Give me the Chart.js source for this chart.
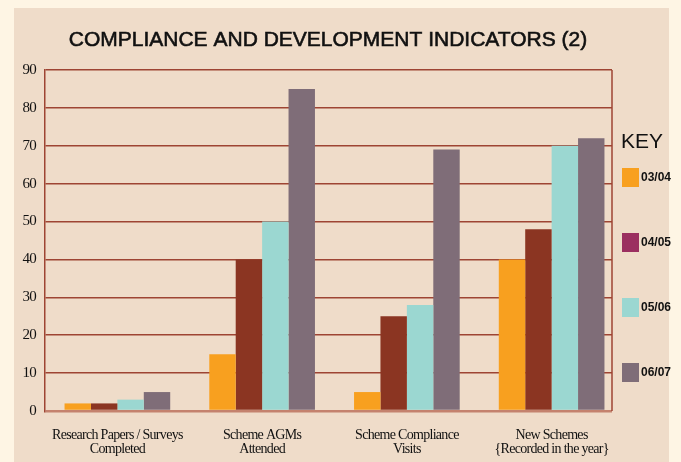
<!DOCTYPE html>
<html>
<head>
<meta charset="utf-8">
<script src="https://cdn.jsdelivr.net/npm/chart.js@4"></script>
<style>
  html, body { margin: 0; padding: 0; background: #fef5e4; }
  #wrap { width: 681px; height: 462px; }
</style>
</head>
<body>
<div id="wrap"><canvas id="chart" width="681" height="462"></canvas></div>
<script>
const categories = [
  ["Research Papers / Surveys", "Completed"],
  ["Scheme AGMs", "Attended"],
  ["Scheme Compliance", "Visits"],
  ["New Schemes", "{Recorded in the year}"]
];
const years = ["03/04", "04/05", "05/06", "06/07"];
const values0304 = [2, 15, 5, 40];
const values0405 = [2, 40, 25, 48];
const values0506 = [3, 50, 28, 70];
const values0607 = [5, 85, 69, 72];
const yTicks = [0, 10, 20, 30, 40, 50, 60, 70, 80, 90];

const barColors = ["#f8a01f", "#8b3522", "#9bd7d1", "#7f6d78"];
const keyColors = ["#f8a01f", "#9b2f60", "#9bd7d1", "#7f6d78"];
const gridColor = "#9e4433";
const baseColor = "#c4826e";

// panel, title, right border and the "KEY" box
const decor = {
  id: "decor",
  afterLayout(chart) {
    // the bar groups run a little past the framed area on the right
    const x = chart.scales.x;
    x.right += 12;
    x.width += 12;
    x.configure();
  },
  beforeDraw(chart) {
    const ctx = chart.ctx;
    ctx.save();
    ctx.fillStyle = "#efdcc9";
    ctx.fillRect(14, 8, 655, 454);
    ctx.restore();
    ctx.letterSpacing = "-0.7px";
  },
  afterDraw(chart) {
    const ctx = chart.ctx;
    const a = chart.chartArea;
    ctx.save();
    ctx.letterSpacing = "0px";
    ctx.strokeStyle = gridColor;
    ctx.lineWidth = 1.5;
    ctx.beginPath();
    ctx.moveTo(a.right, a.top);
    ctx.lineTo(a.right, a.bottom);
    ctx.stroke();

    ctx.fillStyle = "#111";
    ctx.strokeStyle = "#111";
    ctx.lineWidth = 0.6;
    ctx.textBaseline = "middle";
    ctx.textAlign = "center";
    ctx.font = "21px 'Liberation Sans', Arial, sans-serif";
    const title = "COMPLIANCE AND DEVELOPMENT INDICATORS (2)";
    ctx.fillText(title, 328, 40, 522);
    ctx.strokeText(title, 328, 40, 522);

    ctx.textAlign = "left";
    ctx.fillText("KEY", 621, 142);
    ctx.font = "bold 12px 'Liberation Sans', Arial, sans-serif";
    chart.data.datasets.forEach((ds, i) => {
      const y = 168 + i * 65;
      ctx.fillStyle = keyColors[i];
      ctx.fillRect(622, y, 17, 19);
      ctx.fillStyle = "#111";
      ctx.fillText(ds.label, 641, y + 10);
    });
    ctx.restore();
  }
};

const series = [values0304, values0405, values0506, values0607];

new Chart(document.getElementById("chart"), {
  type: "bar",
  data: {
    labels: categories,
    datasets: series.map((vals, i) => ({
      label: years[i],
      data: vals,
      backgroundColor: barColors[i],
      borderWidth: 0,
      categoryPercentage: 0.73,
      barPercentage: 1.0
    }))
  },
  options: {
    responsive: false,
    animation: false,
    layout: { padding: { top: 70, right: 69, left: 0, bottom: 0 } },
    plugins: {
      legend: { display: false },
      title: { display: false },
      tooltip: { enabled: false }
    },
    scales: {
      x: {
        grid: { display: false },
        border: { display: false },
        ticks: {
          maxRotation: 0,
          autoSkip: false,
          padding: 10,
          color: "#111",
          font: { family: "'Liberation Serif', 'Times New Roman', serif", size: 14, lineHeight: 0.95 }
        },
        afterFit(scale) { scale.height = 51; }
      },
      y: {
        min: 0,
        max: 90,
        afterBuildTicks(scale) { scale.ticks = yTicks.map(v => ({ value: v })); },
        grid: {
          color: c => (c.tick && c.tick.value === 0 ? baseColor : gridColor),
          lineWidth: c => (c.tick && c.tick.value === 0 ? 2.5 : 1.5),
          drawTicks: false
        },
        border: { display: true, color: gridColor, width: 1.5 },
        ticks: {
          padding: 9,
          color: "#111",
          font: { family: "'Liberation Serif', 'Times New Roman', serif", size: 15 }
        },
        afterFit(scale) { scale.width = 45; }
      }
    }
  },
  plugins: [decor]
});
</script>
</body>
</html>
